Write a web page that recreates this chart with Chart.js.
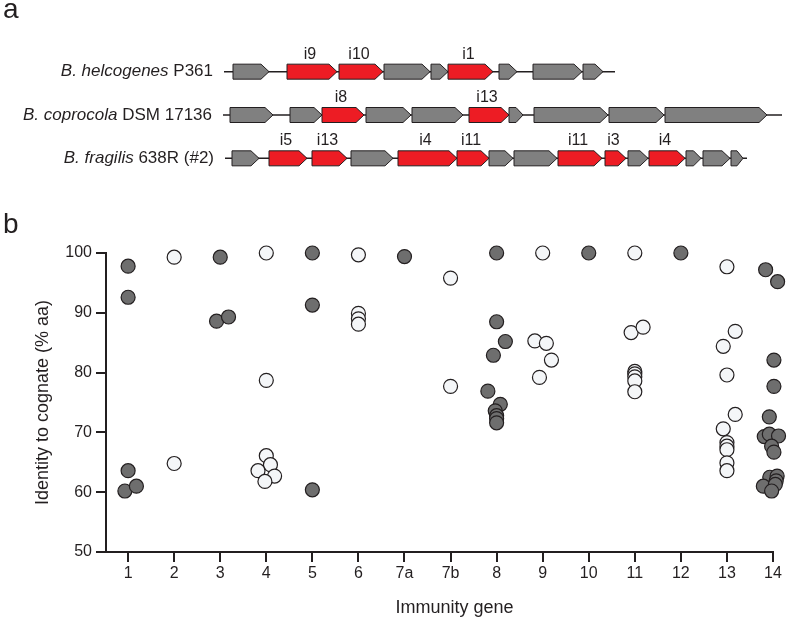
<!DOCTYPE html>
<html>
<head>
<meta charset="utf-8">
<script src="https://cdn.jsdelivr.net/npm/chart.js@4.4.1/dist/chart.umd.min.js"></script>
<style>
  html, body { margin: 0; padding: 0; background: #fff; }
  #wrap { position: relative; width: 789px; height: 625px; }
  #wrap canvas { position: absolute; left: 0; top: 0; }
</style>
</head>
<body>
<div id="wrap">
  <canvas id="identity" width="789" height="625"></canvas>
  <canvas id="loci" width="789" height="200"></canvas>
</div>
<script>
// ---- panel a: gene neighbourhoods (coordinates along the drawn locus) ----
const lociRows = ['helcogenes', 'coprocola', 'fragilis'];
const speciesNames = ['B. helcogenes', 'B. coprocola', 'B. fragilis'];
const strainNames = ['P361', 'DSM 17136', '638R (#2)'];
const locusStart = [224, 223, 225];
const locusEnd = [615, 782, 747];

const helcogenesStart = [233, 287, 339, 384, 431, 448, 499, 533, 583];
const helcogenesEnd   = [269, 337, 383, 430, 448, 493, 517, 582, 603];
const helcogenesName  = ['', 'i9', 'i10', '', '', 'i1', '', '', ''];

const coprocolaStart = [230, 290, 322, 366, 412, 469, 509, 534, 609, 665];
const coprocolaEnd   = [273, 322, 364, 411, 463, 509, 523, 608, 664, 767];
const coprocolaName  = ['', '', 'i8', '', '', 'i13', '', '', '', ''];

const fragilisStart = [232, 269, 312, 351, 398, 457, 489, 514, 558, 605, 628, 649, 686, 703, 731];
const fragilisEnd   = [259, 307, 347, 393, 457, 489, 513, 557, 602, 626, 648, 685, 701, 730, 743];
const fragilisName  = ['', 'i5', 'i13', '', 'i4', 'i11', '', '', 'i11', 'i3', '', 'i4', '', '', ''];

// ---- panel b: identity to cognate (% aa) ----
const geneLabels = ['1', '2', '3', '4', '5', '6', '7a', '7b', '8', '9', '10', '11', '12', '13', '14'];
const yTicks = [50, 60, 70, 80, 90, 100];

const filledGene = ['1', '1', '1', '1', '1', '3', '3', '3', '5', '5', '5', '7a',
  '8', '8', '8', '8', '8', '8', '8', '8', '8', '8', '10', '12',
  '14', '14', '14', '14', '14', '14', '14', '14', '14', '14', '14', '14', '14', '14', '14', '14', '14', '14', '14'];
const filledShift = [0, 0, 0, -0.07, 0.18, 0, -0.08, 0.18, 0, 0, 0, 0,
  0, 0, 0.19, -0.07, -0.19, 0.08, -0.03, 0, 0, 0, 0, 0,
  -0.16, 0.1, 0.02, 0.02, 0.2, -0.08, -0.19, -0.08, 0.12, 0.21, -0.03, 0.02, -0.07, 0.09, 0.07, -0.21, 0.21, 0.05, -0.03];
const filledIdentity = [97.8, 92.6, 63.6, 60.2, 61.0, 99.3, 88.6, 89.3, 100, 91.3, 60.4, 99.4,
  100, 88.5, 85.2, 82.9, 76.9, 74.7, 73.6, 72.8, 72.3, 71.6, 100, 100,
  97.2, 95.2, 82.1, 77.7, 74.9, 72.6, 69.3, 69.7, 69.4, 68.2, 67.7, 66.7, 62.5, 62.7, 61.9, 61.0, 61.0, 61.3, 60.2];

const openGene = ['2', '2', '4', '4', '4', '4', '4', '4', '4', '6', '6', '6', '6', '7b', '7b',
  '9', '9', '9', '9', '9', '11', '11', '11', '11', '11', '11', '11', '11',
  '13', '13', '13', '13', '13', '13', '13', '13', '13', '13', '13'];
const openShift = [0, 0, 0, 0, 0, 0.09, -0.18, 0.18, -0.03, 0, 0, 0, 0, 0, 0,
  0, -0.17, 0.08, 0.19, -0.07, 0, -0.08, 0.18, 0, 0, 0, 0, 0,
  0, 0.18, -0.08, 0, 0.18, -0.08, 0, 0, 0, 0, 0];
const openIdentity = [99.3, 64.8, 100, 78.7, 66.1, 64.6, 63.6, 62.7, 61.8, 99.7, 89.9, 89.0, 88.1, 95.8, 77.7,
  100, 85.3, 84.9, 82.1, 79.2, 100, 86.7, 87.6, 80.2, 79.8, 79.3, 78.6, 76.8,
  97.7, 86.9, 84.4, 79.6, 73.0, 70.6, 68.3, 67.7, 67.1, 64.9, 63.6];

const ink = '#231f20';
const fontFamily = '"Liberation Sans", Arial, Helvetica, sans-serif';

function geneRow(row, starts, ends, names) {
  return starts.map((s, i) => ({ y: lociRows[row], x: [s, ends[i]], name: names[i] }));
}

function points(genes, shifts, values) {
  return values.map((v, i) => ({ x: geneLabels.indexOf(genes[i]) + shifts[i], y: v }));
}

const genes = [].concat(
  geneRow(0, helcogenesStart, helcogenesEnd, helcogenesName),
  geneRow(1, coprocolaStart, coprocolaEnd, coprocolaName),
  geneRow(2, fragilisStart, fragilisEnd, fragilisName)
);
const backbones = lociRows.map((r, i) => ({ y: r, x: [locusStart[i], locusEnd[i]] }));

const arrowPlugin = {
  id: 'arrows',
  beforeDatasetDraw(chart, args) {
    if (args.index !== 0) return;
    const ctx = chart.ctx;
    const data = chart.data.datasets[0].data;
    ctx.save();
    args.meta.data.forEach((el, i) => {
      const left = Math.min(el.base, el.x), right = Math.max(el.base, el.x);
      const h = el.height / 2;
      const head = Math.min(8, (right - left) * 0.5);
      ctx.beginPath();
      ctx.moveTo(left, el.y - h);
      ctx.lineTo(right - head, el.y - h);
      ctx.lineTo(right, el.y);
      ctx.lineTo(right - head, el.y + h);
      ctx.lineTo(left, el.y + h);
      ctx.closePath();
      ctx.fillStyle = data[i].name ? '#ed1c24' : '#808080';
      ctx.fill();
      ctx.lineWidth = 1;
      ctx.strokeStyle = ink;
      ctx.stroke();
      if (data[i].name) {
        ctx.fillStyle = ink;
        ctx.font = '16px ' + fontFamily;
        ctx.textAlign = 'center';
        ctx.textBaseline = 'middle';
        ctx.fillText(data[i].name, (left + right) / 2 - 2, el.y - h - 10);
      }
    });
    ctx.restore();
    return false;
  },
  afterDraw(chart) {
    const ctx = chart.ctx;
    const xs = chart.scales.x, ys = chart.scales.y;
    ctx.save();
    ctx.fillStyle = ink;
    ctx.textBaseline = 'middle';
    ctx.textAlign = 'right';
    lociRows.forEach((r, i) => {
      const y = ys.getPixelForValue(i);
      const x = xs.getPixelForValue(locusStart[i]) - 11;
      ctx.font = '17px ' + fontFamily;
      const strainW = ctx.measureText(' ' + strainNames[i]).width;
      ctx.fillText(' ' + strainNames[i], x, y);
      ctx.font = 'italic 17px ' + fontFamily;
      ctx.fillText(speciesNames[i], x - strainW, y);
    });
    ctx.textAlign = 'left';
    ctx.textBaseline = 'alphabetic';
    ctx.font = '28px ' + fontFamily;
    ctx.fillText('a', 3, 18);
    ctx.restore();
  }
};

new Chart(document.getElementById('loci'), {
  type: 'bar',
  data: {
    labels: lociRows,
    datasets: [
      { label: 'genes', data: genes, grouped: false, maxBarThickness: 15, order: 0, backgroundColor: '#808080' },
      { label: 'locus', data: backbones, grouped: false, maxBarThickness: 1.5, order: 1, backgroundColor: ink, borderWidth: 0 }
    ]
  },
  options: {
    indexAxis: 'y',
    responsive: false,
    animation: false,
    devicePixelRatio: 1,
    layout: { padding: { top: 50, bottom: 20, left: 0, right: 0 } },
    plugins: { legend: { display: false }, tooltip: { enabled: false } },
    scales: {
      x: { type: 'linear', min: 0, max: 789, display: false, stacked: false },
      y: { type: 'category', offset: true, display: false }
    }
  },
  plugins: [arrowPlugin]
});

const labelPlugin = {
  id: 'panelLabels',
  afterDraw(chart) {
    const ctx = chart.ctx;
    const area = chart.chartArea;
    ctx.save();
    ctx.fillStyle = ink;
    ctx.font = '28px ' + fontFamily;
    ctx.textAlign = 'left';
    ctx.textBaseline = 'alphabetic';
    ctx.fillText('b', 3, 233);
    ctx.font = '18px ' + fontFamily;
    ctx.textAlign = 'center';
    ctx.textBaseline = 'middle';
    ctx.fillText('Immunity gene', (area.left + area.right) / 2 + 15, 608);
    ctx.restore();
  }
};

new Chart(document.getElementById('identity'), {
  type: 'scatter',
  data: {
    datasets: [
      {
        label: 'filled',
        data: points(filledGene, filledShift, filledIdentity),
        pointRadius: 7,
        pointBorderWidth: 1.2,
        backgroundColor: '#6e6e6e',
        borderColor: ink,
        clip: false
      },
      {
        label: 'open',
        data: points(openGene, openShift, openIdentity),
        pointRadius: 7,
        pointBorderWidth: 1.2,
        backgroundColor: '#f4f6f8',
        borderColor: ink,
        clip: false
      }
    ]
  },
  options: {
    responsive: false,
    animation: false,
    devicePixelRatio: 1,
    layout: { padding: { top: 253, right: 16, bottom: 0, left: 0 } },
    plugins: { legend: { display: false }, tooltip: { enabled: false } },
    scales: {
      x: {
        type: 'linear',
        min: -0.48,
        max: 14,
        afterBuildTicks: (scale) => { scale.ticks = geneLabels.map((g, i) => ({ value: i })); },
        afterFit: (scale) => { scale.height = 73; },
        ticks: {
          autoSkip: false,
          maxRotation: 0,
          padding: 2,
          color: ink,
          font: { family: fontFamily, size: 16 },
          callback: (v) => geneLabels[v]
        },
        grid: { drawOnChartArea: false, tickLength: 10, color: ink, lineWidth: 2 },
        border: { color: ink, width: 2 }
      },
      y: {
        min: 50,
        max: 100,
        afterBuildTicks: (scale) => { scale.ticks = yTicks.map(v => ({ value: v })); },
        afterFit: (scale) => { scale.width = 106; },
        ticks: {
          padding: 4,
          color: ink,
          font: { family: fontFamily, size: 16 }
        },
        grid: { drawOnChartArea: false, tickLength: 10, color: ink, lineWidth: 2 },
        border: { color: ink, width: 2 },
        title: {
          display: true,
          text: 'Identity to cognate (% aa)',
          color: ink,
          font: { family: fontFamily, size: 18 },
          padding: { top: 32, bottom: 0 }
        }
      }
    }
  },
  plugins: [labelPlugin]
});
</script>
</body>
</html>
